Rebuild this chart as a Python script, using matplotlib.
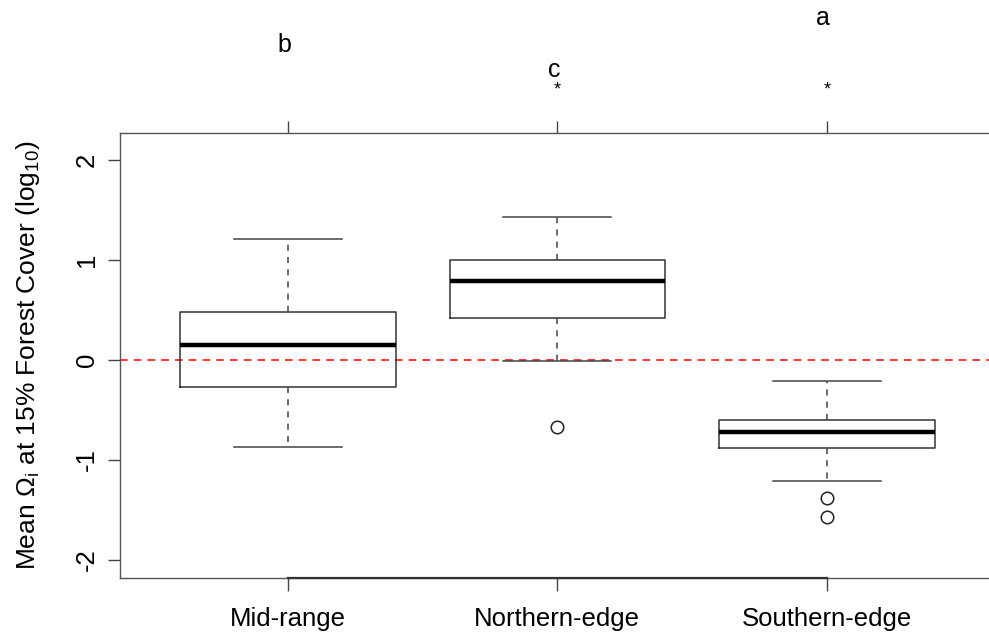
import matplotlib
matplotlib.use("Agg")
import matplotlib.pyplot as plt

plt.rcParams["font.family"] = ["Liberation Sans", "DejaVu Sans"]
plt.rcParams["mathtext.fontset"] = "custom"
plt.rcParams["mathtext.rm"] = "Liberation Sans"
plt.rcParams["mathtext.it"] = "Liberation Sans"

# five-number summaries
groups = ["Mid-range", "Northern-edge", "Southern-edge"]
whisk_lo = [-0.87, -0.01, -1.21]
q1 = [-0.27, 0.42, -0.88]
median = [0.15, 0.79, -0.72]
q3 = [0.48, 1.00, -0.60]
whisk_hi = [1.21, 1.43, -0.21]
outliers = [[], [-0.67], [-1.38, -1.57]]

# significance letters above each group
letters = ["b", "c", "a"]
letter_y = [3.15, 2.90, 3.42]
star_groups = [2, 3]
star_y = 2.70

stats = []
for i, g in enumerate(groups):
    stats.append({
        "label": g, "whislo": whisk_lo[i], "q1": q1[i], "med": median[i],
        "q3": q3[i], "whishi": whisk_hi[i], "fliers": outliers[i],
    })

fig = plt.figure(figsize=(9.89, 6.35), dpi=100)
ax = fig.add_axes([0.1213, 0.0902, 0.8837, 0.6998])

pos = [1, 2, 3]
ax.bxp(
    stats, positions=pos, widths=0.8, patch_artist=False,
    boxprops=dict(color="#333333", lw=1.1),
    medianprops=dict(color="black", lw=3.2, solid_capstyle="butt"),
    whiskerprops=dict(color="#444444", lw=1.1, linestyle=(0, (4, 4))),
    capprops=dict(color="#444444", lw=1.1),
    capwidths=0.4,
    flierprops=dict(marker="o", markerfacecolor="none", markeredgecolor="#222222",
                    markersize=9, markeredgewidth=1.1),
)

ax.axhline(0, color="red", lw=1.1, linestyle=(0, (5, 4)), zorder=0)

ax.set_xlim(0.377, 3.62)
ax.set_ylim(-2.177, 2.267)

ax.set_xticks(pos)
ax.set_xticklabels(groups, fontsize=18.5)
ax.set_yticks([-2, -1, 0, 1, 2])
ax.set_yticklabels(["-2", "-1", "0", "1", "2"], fontsize=18.5, rotation=90, va="center")
ax.tick_params(axis="both", direction="out", length=9, width=1, color="#444444")
ax.tick_params(axis="x", pad=12, top=True)
ax.tick_params(axis="y", pad=6)

for s in ax.spines.values():
    s.set_color("#555555")
    s.set_linewidth(1)
ax.spines["right"].set_visible(False)

# R-style axis line between the outer ticks
ax.plot([1, 3], [ax.get_ylim()[0]] * 2, color="#333333", lw=1.6, clip_on=False, zorder=5)

ax.set_ylabel(r"Mean $\Omega_i$ at 15% Forest Cover (log$_{10}$)", fontsize=19, labelpad=24)

for i, t in enumerate(letters):
    ax.text(pos[i] - 0.013, letter_y[i], t, ha="center", va="center",
            fontsize=18, clip_on=False)
for g in star_groups:
    ax.text(g, star_y, "*", ha="center", va="center", fontsize=13, clip_on=False)

fig.savefig("out.png", dpi=100)
